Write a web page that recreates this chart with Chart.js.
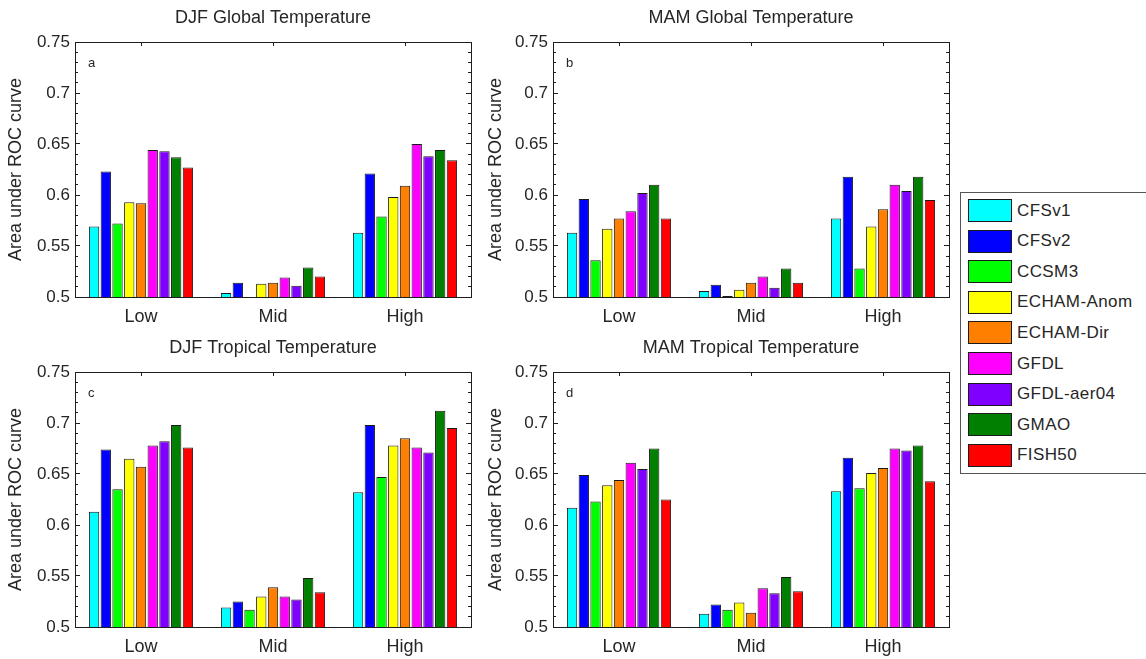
<!DOCTYPE html>
<html>
<head>
<meta charset="utf-8">
<script src="https://cdn.jsdelivr.net/npm/chart.js@4.4.1/dist/chart.umd.min.js"></script>
<style>
html, body { margin:0; padding:0; background:#fff; width:1146px; height:659px; overflow:hidden; }
canvas.panel { position:absolute; }
#legend { position:absolute; left:960px; top:192px; width:200px; height:282px; border:1px solid #555; box-sizing:border-box;
  font-family:"Liberation Sans", Arial, Helvetica, sans-serif; font-size:17px; color:#262626; letter-spacing:0.4px; background:#fff; }
#legend .item { position:absolute; left:7px; height:23px; display:flex; align-items:center; white-space:nowrap; }
#legend .sw { width:44px; height:23px; box-sizing:border-box; border:1px solid #1a1a1a; margin-right:5px; flex:none; }
</style>
</head>
<body>
<canvas id="c0" class="panel" width="480" height="330" style="left:0;top:0"></canvas>
<canvas id="c1" class="panel" width="480" height="330" style="left:480px;top:0"></canvas>
<canvas id="c2" class="panel" width="480" height="330" style="left:0;top:330px"></canvas>
<canvas id="c3" class="panel" width="480" height="330" style="left:480px;top:330px"></canvas>
<div id="legend"></div>
<script>
// ---------------- DATA ----------------
const categories = ['Low', 'Mid', 'High'];
const models = ['CFSv1', 'CFSv2', 'CCSM3', 'ECHAM-Anom', 'ECHAM-Dir', 'GFDL', 'GFDL-aer04', 'GMAO', 'FISH50'];
const modelColors = ['#00FFFF', '#0000FF', '#00FF00', '#FFFF00', '#FF8000', '#FF00FF', '#8000FF', '#007F00', '#FF0000'];
const panelTitles = ['DJF Global Temperature', 'MAM Global Temperature', 'DJF Tropical Temperature', 'MAM Tropical Temperature'];
const panelLetters = ['a', 'b', 'c', 'd'];
const yAxisTitle = 'Area under ROC curve';
const yMin = 0.5, yMax = 0.75, yMajorStep = 0.05, yMinorStep = 0.01;

// rows = models (in order above), columns = [Low, Mid, High]
const djfGlobal = [
  [0.569, 0.504, 0.563],
  [0.623, 0.514, 0.621],
  [0.572, null,  0.579],
  [0.593, 0.513, 0.598],
  [0.592, 0.514, 0.609],
  [0.644, 0.519, 0.650],
  [0.643, 0.511, 0.638],
  [0.637, 0.529, 0.644],
  [0.627, 0.520, 0.634]
];
const mamGlobal = [
  [0.563, 0.506, 0.577],
  [0.596, 0.512, 0.618],
  [0.536, 0.501, 0.528],
  [0.567, 0.507, 0.569],
  [0.577, 0.514, 0.586],
  [0.584, 0.520, 0.610],
  [0.602, 0.509, 0.604],
  [0.610, 0.528, 0.618],
  [0.577, 0.514, 0.595]
];
const djfTropical = [
  [0.613, 0.519, 0.632],
  [0.674, 0.525, 0.698],
  [0.635, 0.517, 0.647],
  [0.665, 0.530, 0.678],
  [0.657, 0.539, 0.685],
  [0.678, 0.530, 0.676],
  [0.682, 0.527, 0.671],
  [0.698, 0.548, 0.712],
  [0.676, 0.534, 0.695]
];
const mamTropical = [
  [0.617, 0.513, 0.633],
  [0.649, 0.522, 0.666],
  [0.623, 0.517, 0.636],
  [0.639, 0.524, 0.651],
  [0.644, 0.514, 0.656],
  [0.661, 0.538, 0.675],
  [0.655, 0.533, 0.673],
  [0.675, 0.549, 0.678],
  [0.625, 0.535, 0.643]
];
const panelData = [djfGlobal, mamGlobal, djfTropical, mamTropical];

// ---------------- STYLE ----------------
const FONT = '"Liberation Sans", Arial, Helvetica, sans-serif';
const TEXT = '#262626';
const AXIS = '#1e1e1e';
Chart.defaults.font.family = FONT;
Chart.defaults.color = TEXT;

const letterPlugin = {
  id: 'panelLetter',
  afterDraw(chart, args, opts) {
    const { ctx, chartArea } = chart;
    ctx.save();
    ctx.font = '13px ' + FONT;
    ctx.fillStyle = TEXT;
    ctx.textBaseline = 'alphabetic';
    ctx.textAlign = 'left';
    ctx.fillText(opts.text, chartArea.left + 13, chartArea.top + 25);
    ctx.restore();
  }
};

function fmt(v) { return String(+v.toFixed(2)); }

function makePanel(idx, leftWidth, rightPad) {
  const rows = panelData[idx];
  const datasets = models.map((m, i) => ({
    label: m,
    data: rows[i],
    backgroundColor: modelColors[i],
    borderColor: '#1a1a1a',
    borderWidth: 1,
    borderSkipped: false,
    categoryPercentage: 0.8,
    barPercentage: 0.88,
    yAxisID: 'y'
  }));
  new Chart(document.getElementById('c' + idx), {
    type: 'bar',
    data: { labels: categories, datasets },
    plugins: [letterPlugin],
    options: {
      responsive: false,
      animation: false,
      events: [],
      layout: { padding: { left: 0, right: rightPad, top: 0, bottom: 0 } },
      plugins: {
        legend: { display: false },
        tooltip: { enabled: false },
        title: {
          display: true, text: panelTitles[idx], fullSize: false, color: TEXT,
          font: { size: 18, weight: 'normal', family: FONT, lineHeight: '20px' },
          padding: { top: 8, bottom: 14 }
        },
        panelLetter: { text: panelLetters[idx] }
      },
      scales: {
        x: {
          type: 'category', position: 'bottom', offset: true,
          grid: { display: false, drawTicks: false },
          border: { display: true, color: AXIS, width: 1 },
          ticks: { color: TEXT, font: { size: 18 }, padding: 9, maxRotation: 0 },
          afterFit: s => { s.height = 33; }
        },
        xTop: {
          type: 'category', position: 'top', offset: true,
          grid: { display: true, drawOnChartArea: false, drawTicks: true, tickLength: -4, offset: false, color: AXIS },
          border: { display: true, color: AXIS, width: 1 },
          ticks: { display: false },
          afterFit: s => { s.height = 0; }
        },
        y: {
          type: 'linear', position: 'left', min: yMin, max: yMax, weight: 1,
          grid: { drawOnChartArea: false, drawTicks: true, tickLength: -5, color: AXIS },
          border: { display: true, color: AXIS, width: 1 },
          ticks: { stepSize: yMajorStep, padding: 10, color: TEXT, font: { size: 17 }, callback: v => fmt(v) },
          title: { display: true, text: yAxisTitle, color: TEXT, font: { size: 18, lineHeight: '20px' }, padding: { top: 6, bottom: 0 } },
          afterFit: s => { s.width = leftWidth; }
        },
        yMinorL: {
          type: 'linear', position: 'left', min: yMin, max: yMax, weight: 0,
          grid: { drawOnChartArea: false, drawTicks: true, tickLength: -3, color: AXIS },
          border: { display: false },
          ticks: { display: false, stepSize: yMinorStep, maxTicksLimit: 40 },
          afterFit: s => { s.width = 0; }
        },
        yR: {
          type: 'linear', position: 'right', min: yMin, max: yMax, weight: 1,
          grid: { drawOnChartArea: false, drawTicks: true, tickLength: -5, color: AXIS },
          border: { display: true, color: AXIS, width: 1 },
          ticks: { display: false, stepSize: yMajorStep },
          afterFit: s => { s.width = 0; }
        },
        yMinorR: {
          type: 'linear', position: 'right', min: yMin, max: yMax, weight: 0,
          grid: { drawOnChartArea: false, drawTicks: true, tickLength: -3, color: AXIS },
          border: { display: false },
          ticks: { display: false, stepSize: yMinorStep, maxTicksLimit: 40 },
          afterFit: s => { s.width = 0; }
        }
      }
    }
  });
}

makePanel(0, 75, 9);
makePanel(1, 73, 11);
makePanel(2, 75, 9);
makePanel(3, 73, 11);

// ---------------- LEGEND ----------------
const legend = document.getElementById('legend');
models.forEach((m, i) => {
  const item = document.createElement('div');
  item.className = 'item';
  item.style.top = (6 + i * 30.6) + 'px';
  const sw = document.createElement('div');
  sw.className = 'sw';
  sw.style.background = modelColors[i];
  const label = document.createElement('span');
  label.textContent = m;
  item.appendChild(sw);
  item.appendChild(label);
  legend.appendChild(item);
});
</script>
</body>
</html>
